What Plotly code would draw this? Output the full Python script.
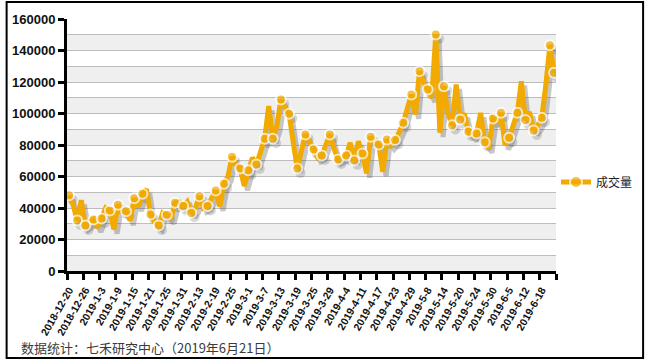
import plotly.graph_objects as go

# ---------------- data ----------------
dates = [
    "2018-12-20", "2018-12-21", "2018-12-24", "2018-12-25", "2018-12-26", "2018-12-27", "2018-12-28",
    "2019-1-2", "2019-1-3", "2019-1-4", "2019-1-7", "2019-1-8", "2019-1-9", "2019-1-10", "2019-1-11",
    "2019-1-14", "2019-1-15", "2019-1-16", "2019-1-17", "2019-1-18", "2019-1-21", "2019-1-22",
    "2019-1-23", "2019-1-24", "2019-1-25", "2019-1-28", "2019-1-29", "2019-1-30", "2019-1-31",
    "2019-2-1", "2019-2-11", "2019-2-12", "2019-2-13", "2019-2-14", "2019-2-15", "2019-2-18",
    "2019-2-19", "2019-2-20", "2019-2-21", "2019-2-22", "2019-2-25", "2019-2-26", "2019-2-27",
    "2019-2-28", "2019-3-1", "2019-3-4", "2019-3-5", "2019-3-6", "2019-3-7", "2019-3-8",
    "2019-3-11", "2019-3-12", "2019-3-13", "2019-3-14", "2019-3-15", "2019-3-18", "2019-3-19",
    "2019-3-20", "2019-3-21", "2019-3-22", "2019-3-25", "2019-3-26", "2019-3-27", "2019-3-28",
    "2019-3-29", "2019-4-1", "2019-4-2", "2019-4-3", "2019-4-4", "2019-4-8", "2019-4-9",
    "2019-4-10", "2019-4-11", "2019-4-12", "2019-4-15", "2019-4-16", "2019-4-17", "2019-4-18",
    "2019-4-19", "2019-4-22", "2019-4-23", "2019-4-24", "2019-4-25", "2019-4-26", "2019-4-29",
    "2019-4-30", "2019-5-6", "2019-5-7", "2019-5-8", "2019-5-9", "2019-5-10", "2019-5-13",
    "2019-5-14", "2019-5-15", "2019-5-16", "2019-5-17", "2019-5-20", "2019-5-21", "2019-5-22",
    "2019-5-23", "2019-5-24", "2019-5-27", "2019-5-28", "2019-5-29", "2019-5-30", "2019-5-31",
    "2019-6-3", "2019-6-4", "2019-6-5", "2019-6-6", "2019-6-10", "2019-6-11", "2019-6-12",
    "2019-6-13", "2019-6-14", "2019-6-17", "2019-6-18", "2019-6-19", "2019-6-20", "2019-6-21",
]

volume = [
    48100, 42000, 32000, 45000, 28900, 31000, 32700, 27600, 33300, 40000,
    38400, 26500, 42000, 38000, 38000, 32000, 46200, 41000, 49000, 52000,
    35900, 31000, 28900, 37000, 35700, 33000, 43300, 44000, 41200, 44000,
    36900, 40000, 47500, 40000, 41200, 46000, 51100, 41000, 55400, 60000,
    72500, 68000, 65100, 54000, 64000, 72000, 67600, 75000, 83900, 104700,
    83900, 92000, 108900, 104000, 99800, 82000, 65100, 76000, 86700, 82000,
    77200, 72000, 73300, 80000, 86700, 78000, 70800, 72000, 73300, 81400,
    70200, 82400, 74600, 62000, 85200, 82000, 80300, 63000, 83500, 80000,
    83100, 88000, 94100, 103000, 112000, 99400, 126900, 120000, 115300, 110000,
    150200, 87800, 117300, 100000, 92600, 118400, 96200, 100000, 88400, 86000,
    87300, 100400, 81800, 78000, 96800, 95000, 100400, 80000, 84600, 92000,
    100400, 120500, 95800, 101000, 89200, 92000, 97300, 118000, 143400, 125800,
]

tick_labels = dates[::4]
series_name = "成交量"
footer_text = "数据统计：七禾研究中心（2019年6月21日）"

# ---------------- figure ----------------
n = len(dates)
xs = list(range(n))
marked = [(i % 2 == 0) or (i == n - 1) for i in range(n)]
msize = [10 if m else 0 for m in marked]
mline = [2 if m else 0 for m in marked]

ORANGE = "#F2A900"

fig = go.Figure()

# drop shadow
fig.add_trace(go.Scatter(
    x=[x + 0.8 for x in xs], y=[v - 2800 for v in volume],
    mode="lines+markers", showlegend=False, hoverinfo="skip",
    line=dict(color="rgba(70,70,70,0.30)", width=5),
    marker=dict(size=msize, color="rgba(70,70,70,0.30)", line=dict(width=0)),
))

fig.add_trace(go.Scatter(
    x=xs, y=volume, name=series_name, text=dates,
    mode="lines+markers",
    line=dict(color=ORANGE, width=5),
    marker=dict(size=msize, color=ORANGE, line=dict(color="white", width=mline)),
))

# alternating bands
shapes = []
for k in range(0, 160000, 20000):
    shapes.append(dict(type="rect", xref="paper", yref="y", x0=0, x1=1,
                       y0=k, y1=k + 10000, fillcolor="#EFEFEF", line=dict(width=0),
                       layer="below"))
# outer border
shapes.append(dict(type="rect", xref="paper", yref="paper",
                   x0=(2 - 63) / 494, x1=(645 - 63) / 494,
                   y0=(271 - 358) / 252, y1=(271 - 2) / 252,
                   line=dict(color="black", width=2), fillcolor="rgba(0,0,0,0)"))

fig.update_layout(
    width=650, height=362,
    margin=dict(l=63, r=93, t=19, b=91),
    paper_bgcolor="white", plot_bgcolor="white",
    shapes=shapes,
    showlegend=True,
    legend=dict(x=1.0, xanchor="left", y=0.353, yanchor="middle",
                font=dict(family="Noto Sans CJK SC", size=12, color="#222"),
                itemsizing="constant", bgcolor="rgba(0,0,0,0)"),
    annotations=[dict(text=footer_text, xref="paper", yref="paper",
                      x=(15 - 63) / 494, y=(271 - 347) / 252,
                      xanchor="left", yanchor="middle", showarrow=False,
                      font=dict(family="Noto Sans CJK SC", size=13, color="#3a3a3a"))],
)

fig.update_yaxes(
    range=[0, 160000], dtick=20000, tick0=0, tickformat="d",
    showgrid=True, gridcolor="#BDBDBD", gridwidth=1,
    minor=dict(dtick=10000, showgrid=True, gridcolor="#BDBDBD", gridwidth=1),
    showline=True, linecolor="black", linewidth=3,
    ticks="outside", ticklen=6, tickwidth=3, tickcolor="black",
    tickfont=dict(family="Liberation Sans, Arial", size=13, color="#111", weight="bold"),
    zeroline=False, fixedrange=True,
)

fig.update_xaxes(
    range=[-0.5, n - 0.5],
    tickmode="array", tickvals=xs[::4], ticktext=tick_labels,
    tickangle=-60,
    ticks="outside", ticklen=6, tickwidth=1, tickcolor="rgba(0,0,0,0)",
    minor=dict(tickmode="array", tickvals=[v - 0.5 for v in range(0, n + 1, 4)],
               ticks="outside", ticklen=6, tickwidth=3, tickcolor="black", showgrid=False),
    showgrid=False, zeroline=False,
    showline=True, linecolor="black", linewidth=3,
    tickfont=dict(family="Liberation Sans, Arial", size=10.5, color="#111", weight="bold"),
    fixedrange=True,
)

fig.write_html(
    "out.html",
    config={"displayModeBar": False, "staticPlot": False},
    post_script="document.body.style.margin='0';document.body.style.padding='0';",
)
